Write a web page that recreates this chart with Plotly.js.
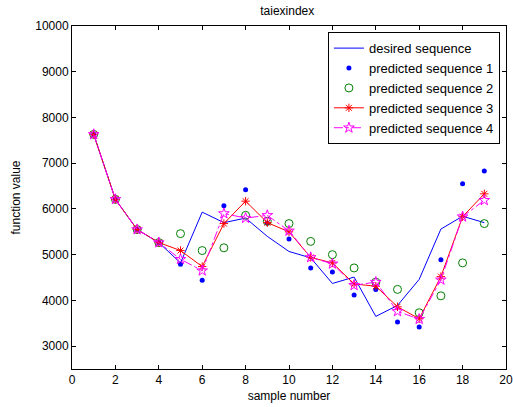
<!DOCTYPE html>
<html>
<head>
<meta charset="utf-8">
<script src="https://cdn.plot.ly/plotly-3.0.1.min.js"></script>
<style>html,body{margin:0;padding:0;background:#fff;}#chart{width:513px;height:407px;}</style>
</head>
<body>
<div id="chart"></div>
<script>
const samples = [1,2,3,4,5,6,7,8,9,10,11,12,13,14,15,16,17,18,19];
const desired = [7630,6210,5550,5265,4820,5930,5700,5800,5400,5070,4930,4370,4510,3650,3890,4460,5560,5840,5700];
const pred1   = [7630,6210,5550,5265,4790,4440,6070,6420,5690,5340,4710,4620,4120,4240,3530,3420,4890,6550,6830];
const pred2   = [7630,6210,5550,5265,5460,5090,5150,5860,5730,5680,5290,5000,4710,4400,4240,3730,4100,4820,5680];
const pred3   = [7630,6210,5550,5265,5090,4740,5680,6170,5700,5500,4940,4820,4360,4310,3860,3600,4520,5830,6330];
const pred4   = [7630,6210,5550,5265,4900,4650,5900,5800,5860,5520,4940,4800,4330,4400,3760,3590,4450,5830,6190];
const names = ['desired sequence','predicted sequence 1','predicted sequence 2','predicted sequence 3','predicted sequence 4'];
const xTicks = [0,2,4,6,8,10,12,14,16,18,20];
const yTicks = [3000,4000,5000,6000,7000,8000,9000,10000];

const traces = [
  {x:samples, y:desired, name:names[0], type:'scatter', mode:'lines', line:{color:'#0000ff', width:1}},
  {x:samples, y:pred1, name:names[1], type:'scatter', mode:'markers', marker:{symbol:'circle', size:5, color:'#0000ff'}},
  {x:samples, y:pred2, name:names[2], type:'scatter', mode:'markers', marker:{symbol:'circle-open', size:8, color:'#008000', line:{width:1, color:'#008000'}}},
  {x:samples, y:pred3, name:names[3], type:'scatter', mode:'lines+markers', line:{color:'#ff0000', width:1}, marker:{symbol:'asterisk-open', size:7, color:'#ff0000', line:{width:1, color:'#ff0000'}}},
  {x:samples, y:pred4, name:names[4], type:'scatter', mode:'lines+markers', line:{color:'#ff00ff', width:1, dash:'dashdot'}, marker:{symbol:'star-open', size:8, color:'#ff00ff', line:{width:1, color:'#ff00ff'}}}
];

const axisCommon = {
  showgrid:false, zeroline:false, showline:true, linecolor:'#000', linewidth:1, mirror:'ticks',
  ticks:'inside', ticklen:4, tickcolor:'#000', tickwidth:1,
  tickfont:{family:'Liberation Sans, Arial, sans-serif', size:12, color:'#000'}
};

const layout = {
  width:513, height:407,
  margin:{l:72, r:7, t:26, b:38},
  paper_bgcolor:'#fff', plot_bgcolor:'#fff',
  font:{family:'Liberation Sans, Arial, sans-serif', size:12, color:'#000'},
  title:{text:'taiexindex', x:0.56, xanchor:'center', y:0.985, yanchor:'top', font:{size:12, color:'#000'}},
  xaxis:Object.assign({}, axisCommon, {range:[0,20], tickvals:xTicks, ticktext:xTicks.map(String),
    title:{text:'sample number', standoff:5, font:{size:12}}}),
  yaxis:Object.assign({}, axisCommon, {range:[2500,10000], tickvals:yTicks, ticktext:yTicks.map(String),
    title:{text:'function value', standoff:12, font:{size:12}}}),
  showlegend:true,
  legend:{x:0.986, xanchor:'right', y:0.982, yanchor:'top', bgcolor:'#fff', bordercolor:'#000', borderwidth:1,
    font:{size:13}, itemwidth:30, tracegroupgap:0}
};

Plotly.newPlot('chart', traces, layout, {displayModeBar:false, staticPlot:true});
</script>
</body>
</html>
